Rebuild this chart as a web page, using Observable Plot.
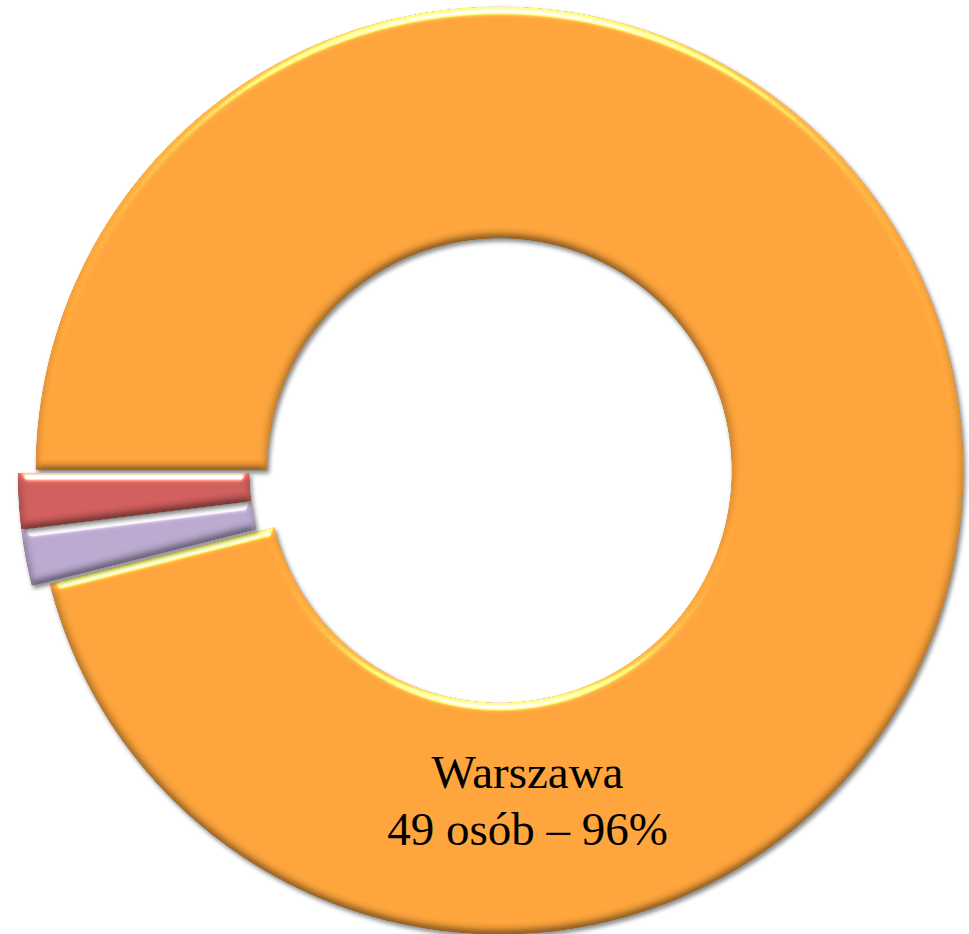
<!DOCTYPE html>
<html>
<head>
<meta charset="utf-8">
<script src="https://cdn.jsdelivr.net/npm/d3@7"></script>
<script src="https://cdn.jsdelivr.net/npm/@observablehq/plot@0.6"></script>
<style>
  html, body { margin: 0; padding: 0; background: #ffffff; }
  #chart { width: 969px; height: 934px; overflow: hidden; }
</style>
</head>
<body>
<div id="chart"></div>
<script>
// ---- data ----
const categories = ["Warszawa", "Inna 1", "Inna 2"];
const counts = [49, 1, 1];
const unit = "osób";
const colors = ["#FBA33B", "#B9A8CE", "#CF5E5C"];
const exploded = [false, true, true];
const shownLabels = ["Warszawa"];

// ---- layout ----
const W = 969, H = 934;
const cx = 499, cy = 470, R = 464;
const innerRatio = 0.5;
const explodeOffset = 18 / R;

const total = d3.sum(counts);
const rows = categories.map((c, i) => ({cat: c, count: counts[i], exploded: exploded[i]}));
const arcs = d3.pie().sort(null).value(d => d.count)
  .startAngle(-Math.PI / 2).endAngle(3 * Math.PI / 2)(rows);

// exploded slices are pulled out together along their common mid-angle
const exArcs = arcs.filter(a => a.data.exploded);
const exMid = exArcs.length
  ? (d3.min(exArcs, a => a.startAngle) + d3.max(exArcs, a => a.endAngle)) / 2 : 0;

const pts = [];
const step = Math.PI / 720;
for (const a of arcs) {
  const off = a.data.exploded ? explodeOffset : 0;
  const ox = off * Math.sin(exMid), oy = -off * Math.cos(exMid);
  const n = Math.max(2, Math.ceil((a.endAngle - a.startAngle) / step));
  for (let k = 0; k <= n; k++) {
    const t = a.startAngle + (a.endAngle - a.startAngle) * k / n;
    pts.push({cat: a.data.cat, x: ox + Math.sin(t), y: oy - Math.cos(t)});
  }
  for (let k = n; k >= 0; k--) {
    const t = a.startAngle + (a.endAngle - a.startAngle) * k / n;
    pts.push({cat: a.data.cat, x: ox + innerRatio * Math.sin(t), y: oy - innerRatio * Math.cos(t)});
  }
}

const labels = rows.filter(d => shownLabels.includes(d.cat)).map(d =>
  `${d.cat}\n${d.count} ${unit} – ${Math.round(d.count / total * 100)}%`);
const labelX = (527 - cx) / R, labelY = (798 - cy) / R;

const plot = Plot.plot({
  width: W, height: H,
  margin: 0,
  x: {domain: [-cx / R, (W - cx) / R], range: [0, W], axis: null},
  y: {domain: [-cy / R, (H - cy) / R], range: [0, H], axis: null},
  color: {domain: categories, range: colors},
  style: {background: "white", overflow: "hidden"},
  marks: [
    Plot.line(pts, {x: "x", y: "y", z: "cat", fill: "cat", stroke: "none", curve: "linear-closed"}),
    Plot.text(labels, {
      x: () => labelX, y: () => labelY, text: d => d,
      fontSize: 47, fontFamily: "Liberation Serif, Times New Roman, serif",
      lineHeight: 1.2, fill: "#000", textAnchor: "middle"
    })
  ]
});

// bevel + shadow filter
const ns = "http://www.w3.org/2000/svg";
const defs = document.createElementNS(ns, "defs");
defs.innerHTML = `
<filter id="bev" filterUnits="userSpaceOnUse" x="-20" y="-20" width="1010" height="980" color-interpolation-filters="sRGB">
  <feGaussianBlur in="SourceAlpha" stdDeviation="4" result="b"/>
  <feDiffuseLighting in="b" surfaceScale="3" diffuseConstant="1" lighting-color="#ffffff" result="d">
    <feDistantLight azimuth="270" elevation="60"/>
  </feDiffuseLighting>
  <feComposite in="SourceGraphic" in2="d" operator="arithmetic" k1="1.155" k2="0" k3="0" k4="0" result="shaded"/>
  <feComposite in="shaded" in2="SourceAlpha" operator="in" result="shadedIn"/>
  <feSpecularLighting in="b" surfaceScale="5" specularConstant="1.2" specularExponent="40" lighting-color="#fff3b0" result="s">
    <feDistantLight azimuth="270" elevation="35"/>
  </feSpecularLighting>
  <feComposite in="s" in2="SourceAlpha" operator="in" result="si"/>
  <feComposite in="shadedIn" in2="si" operator="arithmetic" k1="0" k2="1" k3="1" k4="0" result="lit"/>
  <feComposite in="lit" in2="SourceAlpha" operator="in" result="litIn"/>
  <feGaussianBlur in="SourceAlpha" stdDeviation="2" result="sb"/>
  <feOffset in="sb" dx="1.5" dy="2.5" result="so"/>
  <feFlood flood-color="#000000" flood-opacity="0.45"/>
  <feComposite in2="so" operator="in" result="shadow"/>
  <feMerge><feMergeNode in="shadow"/><feMergeNode in="litIn"/></feMerge>
</filter>`;
plot.insertBefore(defs, plot.firstChild);
plot.querySelectorAll('g[aria-label="line"] path').forEach(p => p.setAttribute("filter", "url(#bev)"));

document.getElementById("chart").appendChild(plot);
</script>
</body>
</html>
